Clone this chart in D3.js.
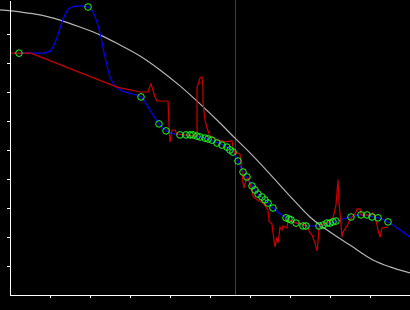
<!DOCTYPE html>
<html>
<head>
<meta charset="utf-8">
<script src="https://cdn.jsdelivr.net/npm/d3@7"></script>
<style>
  body { margin: 0; background: #000; }
</style>
</head>
<body>
<div id="chart"></div>
<script>
// tick positions on both axes (no labels shown)
const xTicks = [1, 2, 3, 4, 5, 6, 7, 8, 9];
const yTicks = [1, 2, 3, 4, 5, 6, 7, 8, 9];

// vertical marker
const markerX = 5.625;

// smooth grey reference curve
const refX = [-0.25, 0.25, 0.75, 1.25, 1.75, 2.25, 2.75, 3.25, 3.75, 4.25, 4.75, 5.25, 5.625, 6.0, 6.5, 7.0, 7.5, 8.075, 8.5, 9.075, 9.5, 10.0];
const refY = [9.83, 9.76, 9.66, 9.48, 9.24, 8.97, 8.62, 8.24, 7.76, 7.21, 6.59, 5.93, 5.41, 4.90, 4.17, 3.41, 2.69, 2.10, 1.72, 1.21, 0.97, 0.76];

// blue fitted curve
const fitX = [0.225, 0.5, 0.825, 1.0, 1.075, 1.2, 1.3, 1.425, 1.55, 1.75, 1.95, 2.075, 2.175, 2.25, 2.375, 2.5, 2.625, 2.825, 3.05, 3.275,
  3.5, 3.725, 3.9, 4.125, 4.375, 4.625, 4.875, 5.125, 5.375, 5.575, 5.7, 5.825, 6.0, 6.2, 6.375, 6.575, 6.9, 7.15, 7.4, 7.725,
  8.0, 8.25, 8.525, 8.775, 9.0, 9.2, 9.45, 9.75, 10.0];
const fitY = [8.34, 8.34, 8.34, 8.41, 8.55, 8.97, 9.41, 9.79, 9.93, 9.97, 9.93, 9.76, 9.41, 9.03, 8.21, 7.52, 7.21, 7.03, 6.93, 6.83,
  6.38, 5.90, 5.66, 5.55, 5.52, 5.48, 5.41, 5.28, 5.14, 4.93, 4.62, 4.24, 3.90, 3.48, 3.28, 3.00, 2.66, 2.48, 2.38, 2.38,
  2.48, 2.59, 2.69, 2.76, 2.72, 2.66, 2.52, 2.24, 2.00];

// observed points (green circles)
const obsX = [0.225, 1.95, 3.275, 3.725, 3.9, 4.25, 4.4, 4.5, 4.575, 4.675, 4.75, 4.875, 4.95, 5.05, 5.175, 5.3, 5.425, 5.5, 5.575, 5.7,
  5.825, 5.925, 6.05, 6.125, 6.2, 6.3, 6.375, 6.45, 6.575, 6.9, 6.975, 7.025, 7.15, 7.325, 7.4, 7.725, 7.825, 7.925, 8.0, 8.075,
  8.15, 8.525, 8.775, 8.925, 9.05, 9.2, 9.45];
const obsY = [8.34, 9.93, 6.83, 5.90, 5.66, 5.52, 5.52, 5.52, 5.52, 5.48, 5.45, 5.41, 5.38, 5.34, 5.24, 5.17, 5.10, 5.00, 4.93, 4.62,
  4.24, 4.07, 3.76, 3.62, 3.48, 3.38, 3.28, 3.17, 3.00, 2.66, 2.62, 2.59, 2.48, 2.38, 2.38, 2.38, 2.41, 2.48, 2.48, 2.52,
  2.55, 2.69, 2.76, 2.76, 2.69, 2.66, 2.52];

// raw red trace
const rawX = [0, 0.525, 2.675, 3.25, 3.45, 3.525, 3.625, 3.675, 3.95, 3.975, 4.0, 4.05, 4.125, 4.175, 4.375, 4.625, 4.675, 4.675, 4.75, 4.8,
  4.825, 4.825, 4.875, 4.925, 5.0, 5.125, 5.375, 5.55, 5.575, 5.625, 5.7, 5.75, 5.8, 5.825, 5.85, 5.9, 5.95, 6.05, 6.075, 6.175,
  6.325, 6.45, 6.475, 6.55, 6.575, 6.625, 6.675, 6.7, 6.75, 6.8, 6.825, 6.925, 6.95, 7.175, 7.25, 7.425, 7.5, 7.55, 7.625, 7.675,
  7.7, 7.725, 7.75, 7.925, 8.075, 8.15, 8.175, 8.2, 8.225, 8.275, 8.3, 8.325, 8.425, 8.5, 8.65, 8.675, 8.75, 8.775, 8.925, 9.05,
  9.075, 9.125, 9.175, 9.2, 9.25, 9.3, 9.45];
const rawY = [8.34, 8.34, 7.17, 7.00, 7.00, 7.28, 6.83, 6.69, 6.69, 5.86, 5.28, 5.69, 5.69, 5.55, 5.52, 5.48, 5.62, 7.14, 7.48, 7.52,
  7.17, 6.62, 6.03, 5.76, 5.48, 5.38, 5.28, 5.31, 5.10, 4.86, 4.90, 4.86, 4.24, 3.86, 3.69, 3.97, 4.03, 3.62, 3.41, 3.28,
  3.17, 2.93, 2.55, 2.45, 2.14, 1.66, 2.00, 1.79, 2.34, 2.24, 2.38, 2.31, 2.59, 2.48, 2.45, 2.38, 2.14, 2.07, 1.79, 1.52,
  1.83, 2.31, 2.41, 2.48, 2.66, 3.10, 3.55, 3.97, 3.21, 2.41, 2.00, 2.17, 2.38, 2.59, 2.86, 2.97, 2.97, 2.76, 2.76, 2.76,
  2.83, 2.69, 2.41, 2.24, 2.00, 2.31, 2.34];

const W = 410, H = 310;

const svg = d3.select("#chart")
  .append("svg")
    .attr("width", W)
    .attr("height", H)
    .style("display", "block")
    .style("background", "#000");

const x = d3.scaleLinear().domain([0, 10]).range([10, 410]);
const y = d3.scaleLinear().domain([0, 295 / 29]).range([295, 0]);

const zip = (xs, ys) => xs.map((v, i) => [v, ys[i]]);

const plot = svg.append("g");

// vertical marker line
plot.append("line")
  .attr("x1", Math.round(x(markerX)) + 0.5)
  .attr("x2", Math.round(x(markerX)) + 0.5)
  .attr("y1", y.range()[1])
  .attr("y2", y(0))
  .attr("stroke", "#80107f")
  .attr("stroke-width", 1);

const smooth = d3.line()
  .x(d => x(d[0]))
  .y(d => y(d[1]))
  .curve(d3.curveMonotoneX);

// grey reference
plot.append("path")
  .datum(zip(refX, refY))
  .attr("d", smooth)
  .attr("fill", "none")
  .attr("stroke", "#b4b4b4")
  .attr("stroke-width", 1.2);

// blue fit
plot.append("path")
  .datum(zip(fitX, fitY))
  .attr("d", smooth)
  .attr("fill", "none")
  .attr("stroke", "#0000ff")
  .attr("stroke-width", 1.2);

// red raw trace
plot.append("path")
  .datum(zip(rawX, rawY))
  .attr("d", d3.line().x(d => x(d[0])).y(d => y(d[1])))
  .attr("fill", "none")
  .attr("stroke", "#cc0000")
  .attr("stroke-width", 1.2);

// observation circles
plot.selectAll("circle.obs")
  .data(zip(obsX, obsY))
  .join("circle")
    .attr("class", "obs")
    .attr("cx", d => x(d[0]))
    .attr("cy", d => y(d[1]))
    .attr("r", 3.3)
    .attr("fill", "none")
    .attr("stroke", "#22ff22")
    .attr("stroke-width", 1);

// axes
svg.append("g")
  .attr("transform", "translate(0,295)")
  .call(d3.axisBottom(x).tickValues(xTicks).tickSize(3).tickSizeOuter(0).tickFormat(""));
svg.append("g")
  .attr("transform", "translate(10,0)")
  .call(d3.axisLeft(y).tickValues(yTicks).tickSize(3).tickSizeOuter(0).tickFormat(""));

svg.selectAll(".domain, .tick line")
  .attr("stroke", "#fff")
  .attr("shape-rendering", "crispEdges");
</script>
</body>
</html>
